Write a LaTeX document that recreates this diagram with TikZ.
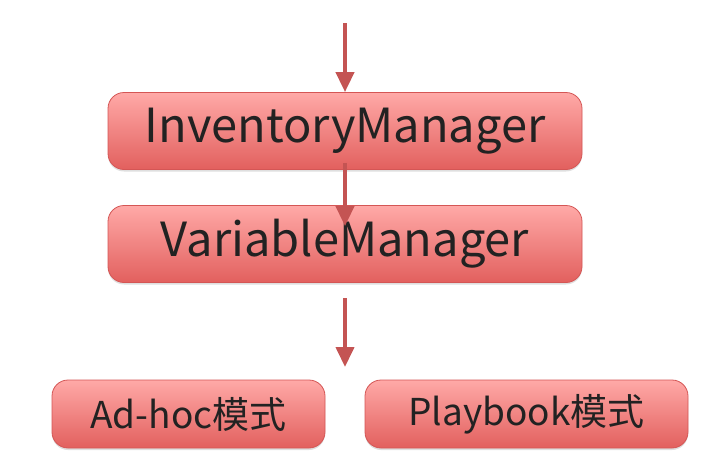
\documentclass[tikz,border=0pt]{standalone}
\usepackage{fontspec}
\setmainfont{Noto Sans CJK SC}
\usetikzlibrary{arrows.meta,shadows}
\definecolor{boxtop}{HTML}{FFA9A7}
\definecolor{boxbot}{HTML}{E2605E}
\definecolor{boxline}{HTML}{D45655}
\definecolor{arrowred}{HTML}{C45453}
\definecolor{txt}{HTML}{222222}
\begin{document}
\begin{tikzpicture}[
        x = 1pt, y = -1pt,
        stage/.style = {draw=boxline, line width=0.8pt, rounded corners=16pt,
          top color=boxtop, bottom color=boxbot, text=txt, inner sep=0pt,
          drop shadow={opacity=0.25, shadow xshift=0pt, shadow yshift=-2pt}},
        flow/.style = {draw=arrowred, line width=4pt,
          -{Triangle[width=18pt,length=20pt]}},
      ]
      \useasboundingbox (0,0) rectangle (725,467);
      \node[stage, minimum width=474pt, minimum height=77pt, font=\fontsize{47}{54}\selectfont]
        (inv) at (345,131) {InventoryManager};
      \node[stage, minimum width=474pt, minimum height=77pt, font=\fontsize{47}{54}\selectfont]
        (var) at (345,244) {VariableManager};
      \node[stage, minimum width=273pt, minimum height=68pt, font=\fontsize{37}{43}\selectfont]
        (adhoc) at (188.5,414) {Ad-hoc模式};
      \node[stage, minimum width=323pt, minimum height=68pt, font=\fontsize{37}{43}\selectfont]
        (play) at (526.5,414) {Playbook模式};
      % entry and hand-over points
      \coordinate (start) at (345,23);
      \coordinate (out) at (345,298);
      \coordinate (in) at (345,367);
      \draw[flow] (start) -- (inv.north);
      \draw[flow] ([yshift=7pt]inv.south) -- ([yshift=-21pt]var.north);
      \draw[flow] (out) -- (in);
\end{tikzpicture}
\end{document}
